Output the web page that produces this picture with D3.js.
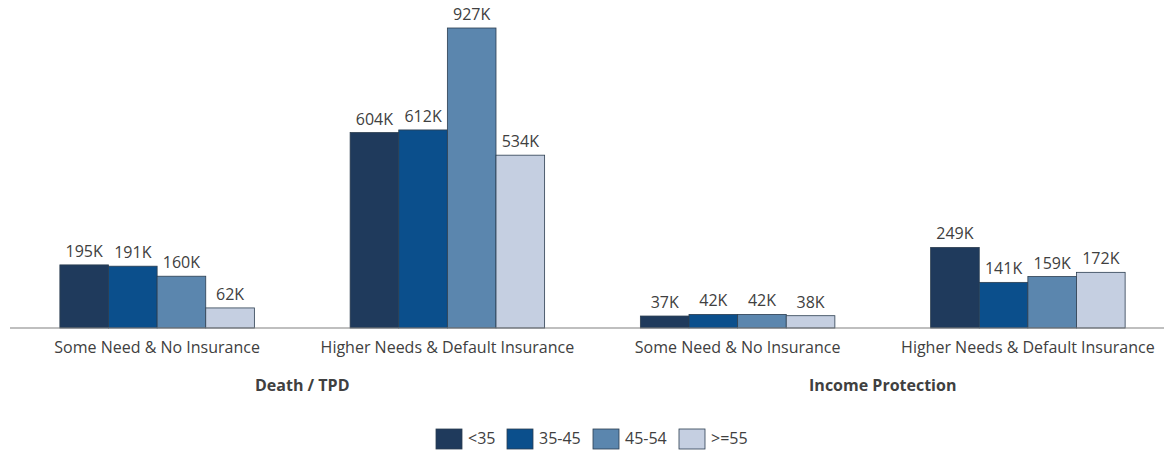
<!DOCTYPE html>
<html>
<head>
<meta charset="utf-8">
<script src="https://cdn.jsdelivr.net/npm/d3@7"></script>
<style>
  html, body { margin: 0; padding: 0; background: #fff; }
  svg text { font-family: "Open Sans", "Liberation Sans", sans-serif; fill: #404040; }
</style>
</head>
<body>
<svg id="chart" width="1164" height="452"></svg>
<script>
// Population counts (thousands) by need segment and age band
const categories = [
  "Some Need & No Insurance",
  "Higher Needs & Default Insurance",
  "Some Need & No Insurance ",
  "Higher Needs & Default Insurance "
];
const sections = ["Death / TPD", "Income Protection"];
const ageBands = ["<35", "35-45", "45-54", ">=55"];
const under35 = [195, 604, 37, 249];
const from35to45 = [191, 612, 42, 141];
const from45to54 = [160, 927, 42, 159];
const over55 = [62, 534, 38, 172];

const seriesValues = [under35, from35to45, from45to54, over55];
const colors = ["#1f3a5c", "#0b4f8c", "#5b86ae", "#c5cfe1"];

const svg = d3.select("#chart");
const baseY = 328, topY = 28;

const x0 = d3.scaleBand().domain(categories).range([12, 1173]).paddingInner(0).paddingOuter(0);
const groupInner = 194.5;
const x1 = d3.scaleBand().domain(ageBands).range([0, groupInner]).padding(0);
const y = d3.scaleLinear().domain([0, 927]).range([baseY, topY]);

const rows = categories.map((c, i) => ({ cat: c, vals: ageBands.map((a, j) => ({ age: a, v: seriesValues[j][i], j })) }));

const g = svg.selectAll("g.grp").data(rows).join("g")
  .attr("class", "grp")
  .attr("transform", d => `translate(${x0(d.cat) + (x0.bandwidth() - groupInner) / 2},0)`);

g.selectAll("rect").data(d => d.vals).join("rect")
  .attr("x", d => x1(d.age))
  .attr("y", d => y(d.v))
  .attr("width", x1.bandwidth())
  .attr("height", d => baseY - y(d.v))
  .attr("fill", d => colors[d.j])
  .attr("stroke", "#2c3e50")
  .attr("stroke-width", 0.8);

g.selectAll("text.val").data(d => d.vals).join("text")
  .attr("class", "val")
  .attr("x", d => x1(d.age) + x1.bandwidth() / 2)
  .attr("y", d => y(d.v) - 8)
  .attr("text-anchor", "middle")
  .style("font-size", "16px")
  .text(d => d.v + "K");

// baseline axis
const axis = d3.axisBottom(x0).tickSize(0).tickPadding(14);
const ax = svg.append("g").attr("transform", `translate(0,${baseY})`).call(axis);
ax.select(".domain").attr("d", `M10,0H1164`).attr("stroke", "#808080").attr("stroke-width", 1.2);
ax.selectAll("text").style("font-size", "16px")
  .style("font-family", "'Open Sans', sans-serif").attr("fill", "#404040");

// section titles
sections.forEach((s, i) => {
  const cx = (x0(categories[i * 2]) + x0(categories[i * 2 + 1]) + x0.bandwidth()) / 2;
  svg.append("text")
    .attr("x", cx).attr("y", 391)
    .attr("text-anchor", "middle")
    .style("font-size", "16px").style("font-weight", "bold")
    .text(s);
});

// legend
const legendX = [436, 507, 593, 679];
const lg = svg.selectAll("g.leg").data(ageBands).join("g")
  .attr("class", "leg")
  .attr("transform", (d, i) => `translate(${legendX[i]},429)`);
lg.append("rect").attr("width", 26).attr("height", 20)
  .attr("fill", (d, i) => colors[i]).attr("stroke", "#2c3e50").attr("stroke-width", 0.8);
lg.append("text").attr("x", 32).attr("y", 15).style("font-size", "16px").text(d => d);
</script>
</body>
</html>
